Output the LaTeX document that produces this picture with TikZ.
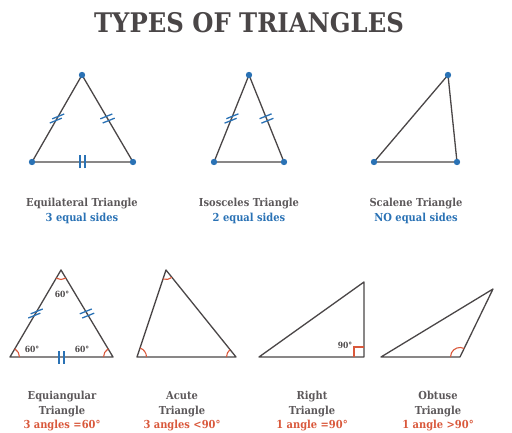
\documentclass[tikz,border=0pt]{standalone}
\usepackage{fontspec}
\newfontfamily\slab[FakeStretch=0.9]{DejaVu Serif}
\usetikzlibrary{angles,calc}

\definecolor{triblue}{HTML}{2A72B5}
\definecolor{trired}{HTML}{D9583B}
\definecolor{trigray}{HTML}{4A4647}

% double tick on a side: midpoint, side angle, tick angle
\newcommand{\eqmark}[3]{%
  \draw[tick] ($(#1)+(#2:2.4)+(#3:-6.5)$) -- ++(#3:13);
  \draw[tick] ($(#1)+(#2:-2.4)+(#3:-6.5)$) -- ++(#3:13);
}

\begin{document}
\begin{tikzpicture}[x=1pt,y=1pt,
    side/.style={draw=trigray, line width=1.3pt, line join=round},
    vdot/.style={fill=triblue},
    tick/.style={draw=triblue, line width=1.3pt},
    amark/.style={draw=trired, line width=1.1pt, angle radius=9.5pt},
    tname/.style={text=trigray!90, align=center, font=\slab\bfseries\fontsize{11}{15}\selectfont},
    tsub/.style={font=\slab\bfseries\fontsize{11}{15}\selectfont},
    deg/.style={text=trigray, font=\slab\bfseries\fontsize{8.5}{10}\selectfont}]
    \useasboundingbox (0,0) rectangle (512,432);

    \node[text=trigray, font=\slab\bfseries\fontsize{27}{30}\selectfont] (title) at (249,409) {TYPES OF TRIANGLES};

    % top row
    \coordinate (eqA) at (82,357);
    \coordinate (eqB) at (32,270);
    \coordinate (eqC) at (133,270);
    \draw[side] (eqA) -- (eqB) -- (eqC) -- cycle;
    \eqmark{$(eqA)!0.5!(eqB)$}{60}{22}
    \eqmark{$(eqA)!0.5!(eqC)$}{-60}{22}
    \eqmark{$(eqB)!0.5!(eqC)$}{0}{90}
    \foreach \v in {eqA,eqB,eqC} \fill[vdot] (\v) circle (3.2);
    \node[tname] (eqname) at (82,228) {Equilateral Triangle};
    \node[tsub, text=triblue] (eqsub) at (82,214) {3 equal sides};

    \coordinate (isA) at (249,357);
    \coordinate (isB) at (214,270);
    \coordinate (isC) at (284,270);
    \draw[side] (isA) -- (isB) -- (isC) -- cycle;
    \eqmark{$(isA)!0.5!(isB)$}{68}{22}
    \eqmark{$(isA)!0.5!(isC)$}{-68}{22}
    \foreach \v in {isA,isB,isC} \fill[vdot] (\v) circle (3.2);
    \node[tname] (isname) at (249,228) {Isosceles Triangle};
    \node[tsub, text=triblue] (issub) at (249,214) {2 equal sides};

    \coordinate (scA) at (448,357);
    \coordinate (scB) at (374,270);
    \coordinate (scC) at (457,270);
    \draw[side] (scA) -- (scB) -- (scC) -- cycle;
    \foreach \v in {scA,scB,scC} \fill[vdot] (\v) circle (3.2);
    \node[tname] (scname) at (416,228) {Scalene Triangle};
    \node[tsub, text=triblue] (scsub) at (416,214) {NO equal sides};

    % bottom row
    \coordinate (qaA) at (61,162);
    \coordinate (qaB) at (10,75);
    \coordinate (qaC) at (113,75);
    \draw[side] (qaA) -- (qaB) -- (qaC) -- cycle;
    \pic[amark] {angle=qaB--qaA--qaC};
    \pic[amark] {angle=qaC--qaB--qaA};
    \pic[amark] {angle=qaA--qaC--qaB};
    \eqmark{$(qaA)!0.5!(qaB)$}{60}{22}
    \eqmark{$(qaA)!0.5!(qaC)$}{-60}{22}
    \eqmark{$(qaB)!0.5!(qaC)$}{0}{90}
    \node[deg] (qatop) at (62,138) {60°};
    \node[deg] (qaleft) at (32,83) {60°};
    \node[deg] (qaright) at (82,83) {60°};
    \node[tname] (qaname) at (62,28) {Equiangular\\Triangle};
    \node[tsub, text=trired] (qasub) at (62,6) {3 angles =60°};

    \coordinate (acA) at (166,162);
    \coordinate (acB) at (137,75);
    \coordinate (acC) at (236,75);
    \draw[side] (acA) -- (acB) -- (acC) -- cycle;
    \pic[amark] {angle=acB--acA--acC};
    \pic[amark] {angle=acC--acB--acA};
    \pic[amark] {angle=acA--acC--acB};
    \node[tname] (acname) at (182,28) {Acute\\Triangle};
    \node[tsub, text=trired] (acsub) at (182,6) {3 angles <90°};

    \coordinate (rtL) at (259,75);
    \coordinate (rtC) at (364,75);
    \coordinate (rtT) at (364,150);
    \draw[side] (rtL) -- (rtC) -- (rtT) -- cycle;
    \draw[trired, line width=1.1pt] ($(rtC)+(-10,0)$) |- ($(rtC)+(0,10)$);
    \node[deg] (rtdeg) at (345,87) {90°};
    \node[tname] (rtname) at (312,28) {Right\\Triangle};
    \node[tsub, text=trired] (rtsub) at (312,6) {1 angle =90°};

    \coordinate (obL) at (381,75);
    \coordinate (obR) at (460,75);
    \coordinate (obT) at (493,143);
    \draw[side] (obL) -- (obR) -- (obT) -- cycle;
    \pic[amark] {angle=obT--obR--obL};
    \node[tname] (obname) at (438,28) {Obtuse\\Triangle};
    \node[tsub, text=trired] (obsub) at (438,6) {1 angle >90°};
\end{tikzpicture}
\end{document}
